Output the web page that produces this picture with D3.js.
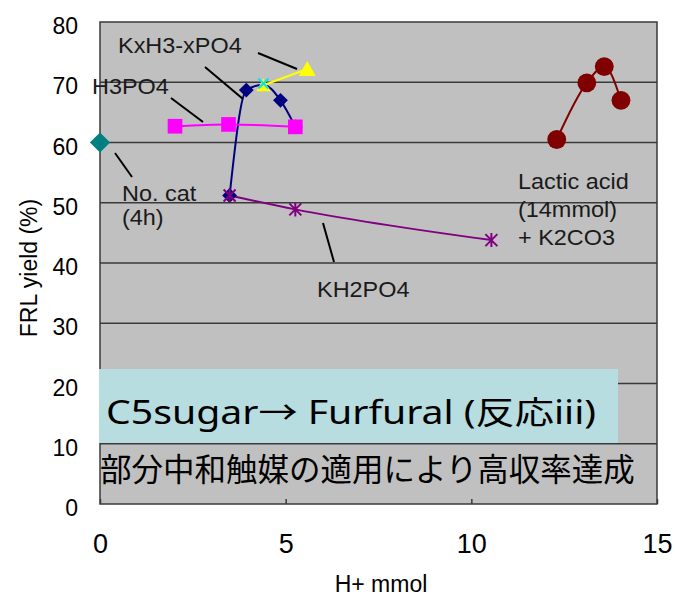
<!DOCTYPE html>
<html><head><meta charset="utf-8">
<script src="https://cdn.jsdelivr.net/npm/d3@7"></script>
<style>body{margin:0;background:#fff}</style>
</head><body><svg id="c" width="675" height="597"></svg>
<script>
// ---- data ----
const xTicks = [0, 5, 10, 15];
const yTicks = [0, 10, 20, 30, 40, 50, 60, 70, 80];
const noCatX = [0], noCatY = [60];
const h3po4X = [2.02, 3.46, 5.26], h3po4Y = [62.7, 63.0, 62.6];
const kxX = [3.49, 3.94, 4.40, 4.86, 5.26], kxY = [51.2, 68.7, 69.6, 67.0, 62.6];
const kxYellowX = [4.40, 5.58], kxYellowY = [69.5, 72.2];
const crossX = [4.40], crossY = [69.8];
const kh2po4X = [3.49, 5.26, 10.54], kh2po4Y = [51.2, 48.9, 43.8];
const lacticX = [12.30, 13.11, 13.58, 14.03], lacticY = [60.5, 69.9, 72.6, 67.0];
const xTitle = "H+ mmol", yTitle = "FRL yield (%)";
const boxTitle = "C5sugar\u2192 Furfural (反応iii)";
const subTitle = "部分中和触媒の適用により高収率達成";

const svg = d3.select("#c");
const x = d3.scaleLinear([0, 15], [100, 657]);
const y = d3.scaleLinear([0, 80], [504, 22]);
const zip = (a, b) => a.map((v, i) => [v, b[i]]);
const sans = "'Liberation Sans', Arial, sans-serif";

// plot background
svg.append("rect").attr("x", x(0)).attr("y", y(80)).attr("width", x(15) - x(0)).attr("height", y(0) - y(80)).attr("fill", "#c0c0c0");
// gridlines
svg.append("g").selectAll("line").data(yTicks.filter(d => d > 0 && d < 80)).join("line")
  .attr("x1", x(0)).attr("x2", x(15)).attr("y1", d => y(d)).attr("y2", d => y(d))
  .attr("stroke", "#3a3a3a").attr("stroke-width", 1.5);

// axes
const gx = svg.append("g").attr("transform", `translate(0,${y(0)})`)
  .call(d3.axisBottom(x).tickValues(xTicks).tickSize(-5).tickFormat(d3.format("d")));
gx.select(".domain").remove();
gx.selectAll("line").attr("stroke", "#3a3a3a").attr("stroke-width", 1.5);
gx.selectAll("text").attr("y", 39).attr("dy", "0.36em")
  .attr("font-family", "'Liberation Sans Narrow', 'Liberation Sans', sans-serif").attr("font-size", 27).attr("fill", "#000");
const gy = svg.append("g").attr("transform", `translate(${x(0)},0)`)
  .call(d3.axisLeft(y).tickValues(yTicks).tickSize(0).tickPadding(22).tickFormat(d3.format("d")));
gy.select(".domain").remove();
gy.selectAll("text").attr("dy", "0.5em").attr("font-family", sans).attr("font-size", 23).attr("fill", "#000");

// frame
svg.append("rect").attr("x", x(0)).attr("y", y(80)).attr("width", x(15) - x(0)).attr("height", y(0) - y(80))
  .attr("fill", "none").attr("stroke", "#3a3a3a").attr("stroke-width", 1.5);

// axis titles
svg.append("text").attr("x", 381).attr("y", 592).attr("text-anchor", "middle")
  .attr("font-family", sans).attr("font-size", 23).text(xTitle);
svg.append("text").attr("transform", `translate(37,268) rotate(-90)`).attr("text-anchor", "middle")
  .attr("font-family", sans).attr("font-size", 23).text(yTitle);

// text boxes
svg.append("rect").attr("x", 99).attr("y", 369).attr("width", 519).attr("height", 74).attr("fill", "#b7dde0");
svg.append("text").attr("x", 106).attr("y", 424).attr("font-family", "'Noto Sans', 'Noto Sans CJK JP', sans-serif")
  .attr("font-size", 32).attr("textLength", 490).attr("lengthAdjust", "spacingAndGlyphs").text(boxTitle);
svg.append("text").attr("x", 100).attr("y", 481).attr("font-family", "'Noto Sans CJK JP', sans-serif")
  .attr("font-size", 31.5).text(subTitle);

// series lines
const curve = d3.line().x(d => x(d[0])).y(d => y(d[1])).curve(d3.curveMonotoneX);
const g = svg.append("g");
function path(pts, color) {
  g.append("path").attr("d", curve(pts)).attr("fill", "none").attr("stroke", color).attr("stroke-width", 2);
}
path(zip(kxX, kxY), "#000080");
path(zip(h3po4X, h3po4Y), "#ff00ff");
path(zip(kh2po4X, kh2po4Y), "#800080");
path(zip(kxYellowX, kxYellowY), "#ffff00");
path(zip(lacticX, lacticY), "#800000");

// markers
const sym = (type, size) => d3.symbol().type(type).size(size)();
function markers(pts, type, size, fill) {
  g.append("g").selectAll("path").data(pts).join("path")
    .attr("transform", d => `translate(${x(d[0])},${y(d[1])})`).attr("d", sym(type, size)).attr("fill", fill);
}
markers(zip(noCatX, noCatY), d3.symbolDiamond2, 260, "#008080");
markers(zip(kxX, kxY).filter((d, i) => i !== 2), d3.symbolDiamond2, 140, "#000080");
markers(zip(h3po4X, h3po4Y), d3.symbolSquare, 215, "#ff00ff");
markers(zip(lacticX, lacticY), d3.symbolCircle, 280, "#800000");
// asterisks
g.append("g").selectAll("path").data(zip(kh2po4X, kh2po4Y)).join("path")
  .attr("transform", d => `translate(${x(d[0])},${y(d[1])})`)
  .attr("d", "M0,-7V7M-6,-6L6,6M-6,6L6,-6").attr("stroke", "#800080").attr("stroke-width", 2).attr("fill", "none");
// yellow triangles
g.append("g").selectAll("path").data(zip(kxYellowX, kxYellowY)).join("path")
  .attr("transform", d => `translate(${x(d[0])},${y(d[1])})`)
  .attr("d", (d, i) => i === 0 ? "M0,-7L7,6L-7,6Z" : "M0,-8L8.5,7L-8.5,7Z").attr("fill", "#ffff00");
// cyan cross
g.append("g").selectAll("path").data(zip(crossX, crossY)).join("path")
  .attr("transform", d => `translate(${x(d[0])},${y(d[1])})`)
  .attr("d", "M-5,-5L5,5M-5,5L5,-5").attr("stroke", "#00e5ee").attr("stroke-width", 2);

// annotation labels
const labels = [
  ["KxH3-xPO4", 118, 53], ["H3PO4", 92, 94], ["No. cat", 122, 201], ["(4h)", 122, 225],
  ["Lactic acid", 518, 189], ["(14mmol)", 518, 217], ["+ K2CO3", 518, 245], ["KH2PO4", 317, 297]
];
svg.append("g").selectAll("text").data(labels).join("text")
  .attr("x", d => d[1]).attr("y", d => d[2]).attr("font-family", sans).attr("font-size", 21.5)
  .attr("fill", "#1a1a1a").text(d => d[0])
  .each(function (d) { const w = this.getComputedTextLength(); this.setAttribute("textLength", w * 1.09); this.setAttribute("lengthAdjust", "spacingAndGlyphs"); });
const leaders = [[205, 67, 243, 99], [258, 53, 297, 69], [171, 98, 203, 122], [115, 153, 132, 177], [323, 223, 334, 262]];
svg.append("g").selectAll("line").data(leaders).join("line")
  .attr("x1", d => d[0]).attr("y1", d => d[1]).attr("x2", d => d[2]).attr("y2", d => d[3])
  .attr("stroke", "#000").attr("stroke-width", 2);
</script></body></html>
